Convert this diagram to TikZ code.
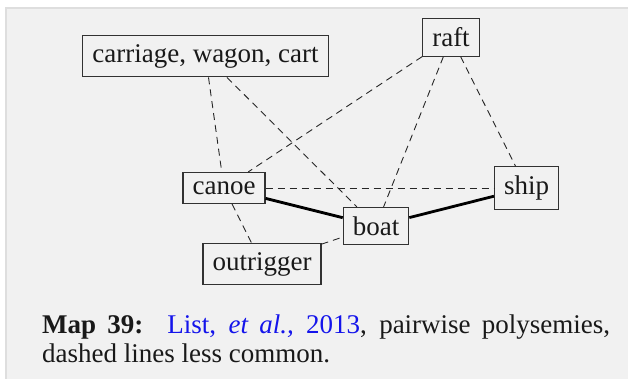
\documentclass[tikz,border=0pt]{standalone}
\usepackage{fontspec}
\setmainfont{Liberation Serif}
\definecolor{bg}{RGB}{241,241,241}
\definecolor{bgline}{RGB}{222,222,222}
\definecolor{boxline}{RGB}{50,50,50}
\definecolor{linkblue}{RGB}{20,20,235}
\begin{document}
\begin{tikzpicture}[x=1pt,y=-1pt,
  word/.style={draw=boxline, line width=1.1pt, inner xsep=9.5pt, inner ysep=9pt,
    font=\fontsize{27}{27}\selectfont, text=black!90},
  dashline/.style={line width=0.9pt, dash pattern=on 7pt off 5pt, draw=black!85},
  strong/.style={line width=2.8pt, draw=black}
]
\useasboundingbox (0,0) rectangle (628,379);
\fill[white] (0,0) rectangle (628,379);
\filldraw[fill=bg, draw=bgline, line width=1.5pt] (6,8) rectangle (640,392);

\node[word] (cart) at (205.5,56) {carriage, wagon, cart};
\node[word] (raft) at (451,37.5) {raft};
\node[word] (ship) at (526.5,188) {ship};
\node[word] (canoe) at (224,188) {canoe};
\node[word] (boat) at (376,226) {boat};
\node[word] (out) at (262,264) {outrigger};

\draw[dashline] (cart) -- (canoe);
\draw[dashline] (cart) -- (boat);
\draw[dashline] (raft) -- (canoe);
\draw[dashline] (raft) -- (boat);
\draw[dashline] (raft) -- (ship);
\draw[dashline] (canoe) -- (ship);
\draw[dashline] (canoe) -- (out);
\draw[dashline] (out) -- (boat);
\draw[strong] (canoe) -- (boat);
\draw[strong] (boat) -- (ship);

\node[anchor=base west, text width=568pt, align=justify, inner sep=0pt,
  font=\fontsize{27}{29.5}\selectfont, text=black!90] (cap) at (42,333)
  {\textbf{Map 39:}\hspace{6pt} \textcolor{linkblue}{List, \textit{et al.,} 2013}, pairwise polysemies,\linebreak dashed lines less common.};
\end{tikzpicture}
\end{document}
